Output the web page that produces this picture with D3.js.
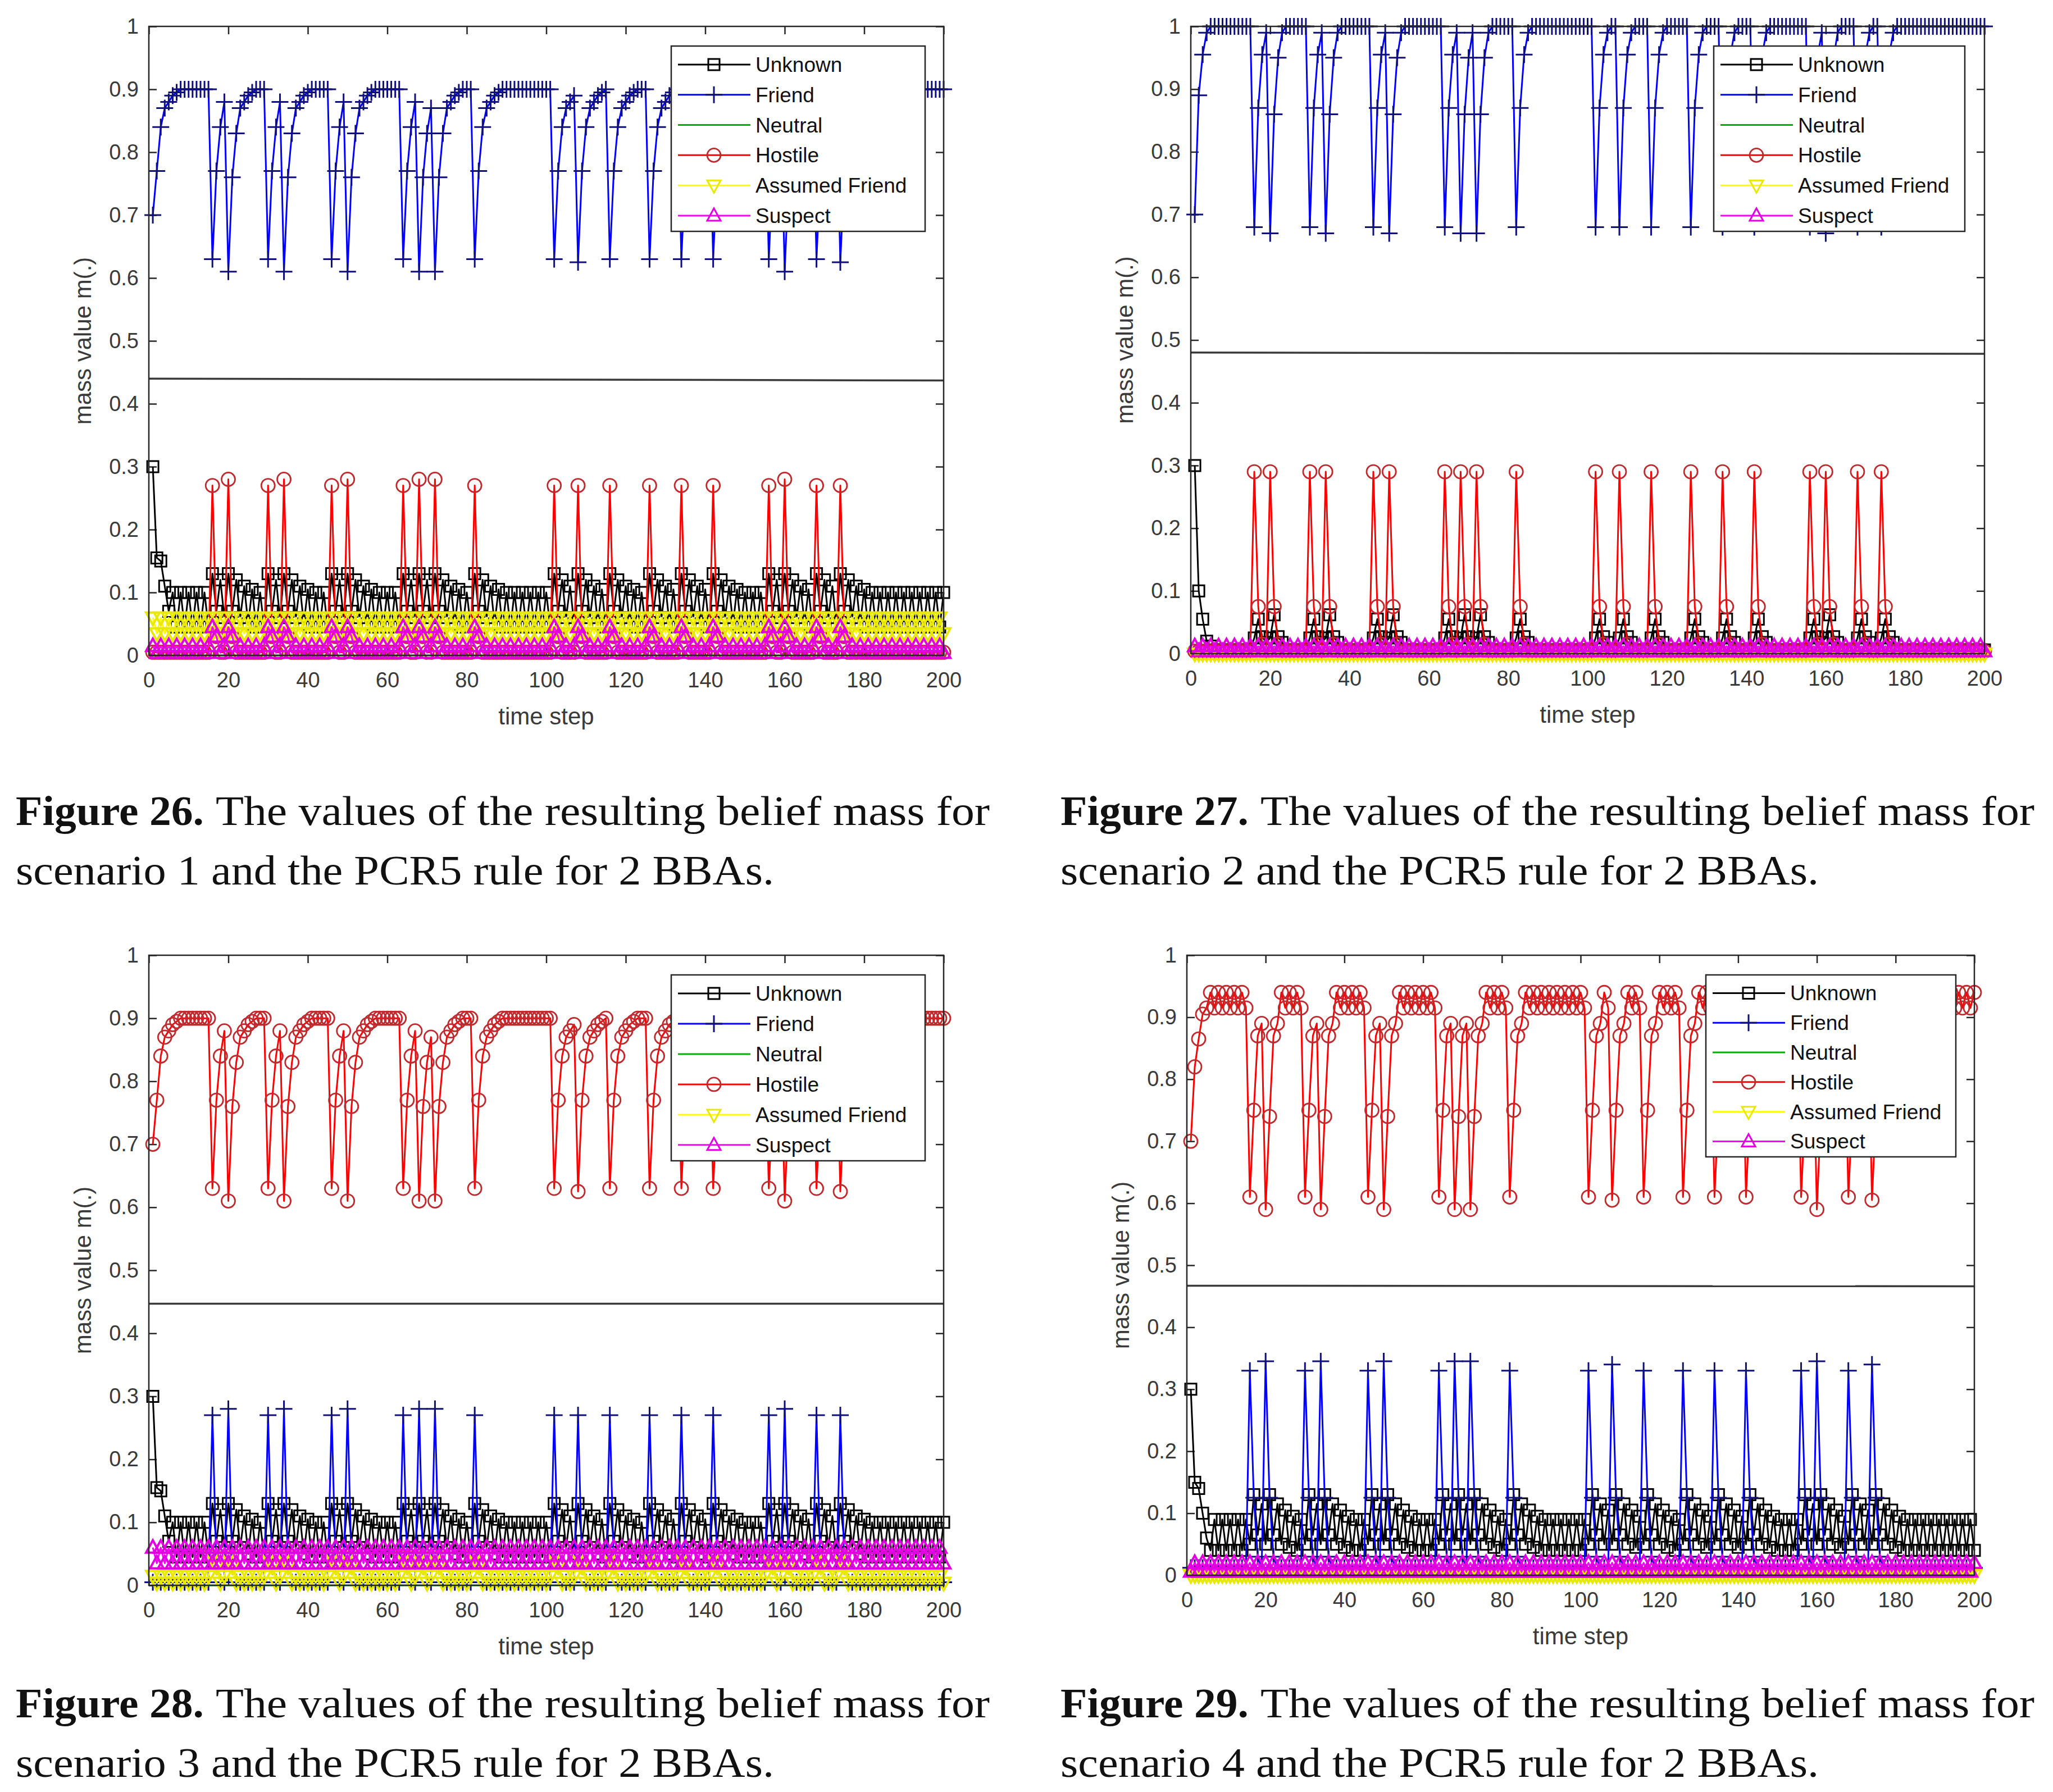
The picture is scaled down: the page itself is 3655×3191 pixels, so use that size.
<!DOCTYPE html>
<html>
<head>
<meta charset="utf-8">
<script src="https://cdn.jsdelivr.net/npm/d3@7"></script>
<style>
body { margin: 0; background: #fff; }
</style>
</head>
<body>
<div id="chart-area"></div>
<script>
const WIDTH = 3655;
const HEIGHT = 3191;

// legend order of the six classes
const SERIES_NAMES = ['Unknown', 'Friend', 'Neutral', 'Hostile', 'Assumed Friend', 'Suspect'];
const X_TICKS = [0, 20, 40, 60, 80, 100, 120, 140, 160, 180, 200];
const Y_TICKS = [0, 0.1, 0.2, 0.3, 0.4, 0.5, 0.6, 0.7, 0.8, 0.9, 1];
const Y_TICK_LABELS = ['0', '0.1', '0.2', '0.3', '0.4', '0.5', '0.6', '0.7', '0.8', '0.9', '1'];

// one value per time step 1..200 (20 per row)
const UNKNOWN_1 = [
0.3,0.155,0.15,0.11,0.07,0.1,0.045,0.1,0.045,0.1,0.045,0.1,0.045,0.1,0.045,0.13,0.07,0.12,0.06,0.13,
0.07,0.12,0.06,0.11,0.05,0.105,0.045,0.1,0.045,0.13,0.07,0.12,0.06,0.13,0.07,0.12,0.06,0.11,0.05,0.105,
0.045,0.1,0.045,0.1,0.045,0.13,0.07,0.12,0.06,0.13,0.07,0.12,0.06,0.11,0.05,0.105,0.045,0.1,0.045,0.1,
0.045,0.1,0.045,0.13,0.07,0.12,0.06,0.13,0.07,0.12,0.06,0.13,0.07,0.12,0.06,0.11,0.05,0.105,0.045,0.1,
0.045,0.13,0.07,0.12,0.06,0.11,0.05,0.105,0.045,0.1,0.045,0.1,0.045,0.1,0.045,0.1,0.045,0.1,0.045,0.1,
0.045,0.13,0.07,0.12,0.06,0.11,0.05,0.13,0.07,0.12,0.06,0.11,0.05,0.105,0.045,0.13,0.07,0.12,0.06,0.11,
0.05,0.105,0.045,0.1,0.045,0.13,0.07,0.12,0.06,0.11,0.05,0.105,0.045,0.13,0.07,0.12,0.06,0.11,0.05,0.105,
0.045,0.13,0.07,0.12,0.06,0.11,0.05,0.105,0.045,0.1,0.045,0.1,0.045,0.1,0.045,0.13,0.07,0.12,0.06,0.13,
0.07,0.12,0.06,0.11,0.05,0.105,0.045,0.13,0.07,0.12,0.06,0.11,0.05,0.13,0.07,0.12,0.06,0.11,0.05,0.105,
0.045,0.1,0.045,0.1,0.045,0.1,0.045,0.1,0.045,0.1,0.045,0.1,0.045,0.1,0.045,0.1,0.045,0.1,0.045,0.1
];
const FRIEND_1 = [
0.7,0.77,0.84,0.87,0.88,0.89,0.895,0.9,0.9,0.9,0.9,0.9,0.9,0.9,0.9,0.63,0.77,0.84,0.88,0.61,
0.76,0.83,0.87,0.88,0.89,0.895,0.9,0.9,0.9,0.63,0.77,0.84,0.88,0.61,0.76,0.83,0.87,0.88,0.89,0.895,
0.9,0.9,0.9,0.9,0.9,0.63,0.77,0.84,0.88,0.61,0.76,0.83,0.87,0.88,0.89,0.895,0.9,0.9,0.9,0.9,
0.9,0.9,0.9,0.63,0.77,0.84,0.88,0.61,0.76,0.83,0.87,0.61,0.76,0.83,0.87,0.88,0.89,0.895,0.9,0.9,
0.9,0.63,0.77,0.84,0.87,0.88,0.89,0.895,0.9,0.9,0.9,0.9,0.9,0.9,0.9,0.9,0.9,0.9,0.9,0.9,
0.9,0.63,0.77,0.84,0.87,0.88,0.89,0.625,0.77,0.84,0.87,0.88,0.89,0.895,0.9,0.63,0.77,0.84,0.87,0.88,
0.89,0.895,0.9,0.9,0.9,0.63,0.77,0.84,0.87,0.88,0.89,0.895,0.9,0.63,0.77,0.84,0.87,0.88,0.89,0.895,
0.9,0.63,0.77,0.84,0.87,0.88,0.89,0.895,0.9,0.9,0.9,0.9,0.9,0.9,0.9,0.63,0.77,0.84,0.88,0.61,
0.76,0.83,0.87,0.88,0.89,0.895,0.9,0.63,0.77,0.84,0.87,0.88,0.89,0.625,0.77,0.84,0.87,0.88,0.89,0.895,
0.9,0.9,0.9,0.9,0.9,0.9,0.9,0.9,0.9,0.9,0.9,0.9,0.9,0.9,0.9,0.9,0.9,0.9,0.9,0.9
];
const HOSTILE_1 = [
0.005,0.005,0.005,0.005,0.005,0.005,0.005,0.005,0.005,0.005,0.005,0.005,0.005,0.005,0.005,0.27,0.03,0.005,0.005,0.28,
0.03,0.005,0.005,0.005,0.005,0.005,0.005,0.005,0.005,0.27,0.03,0.005,0.005,0.28,0.03,0.005,0.005,0.005,0.005,0.005,
0.005,0.005,0.005,0.005,0.005,0.27,0.03,0.005,0.005,0.28,0.03,0.005,0.005,0.005,0.005,0.005,0.005,0.005,0.005,0.005,
0.005,0.005,0.005,0.27,0.03,0.005,0.005,0.28,0.03,0.005,0.005,0.28,0.03,0.005,0.005,0.005,0.005,0.005,0.005,0.005,
0.005,0.27,0.03,0.005,0.005,0.005,0.005,0.005,0.005,0.005,0.005,0.005,0.005,0.005,0.005,0.005,0.005,0.005,0.005,0.005,
0.005,0.27,0.03,0.005,0.005,0.005,0.005,0.27,0.03,0.005,0.005,0.005,0.005,0.005,0.005,0.27,0.03,0.005,0.005,0.005,
0.005,0.005,0.005,0.005,0.005,0.27,0.03,0.005,0.005,0.005,0.005,0.005,0.005,0.27,0.03,0.005,0.005,0.005,0.005,0.005,
0.005,0.27,0.03,0.005,0.005,0.005,0.005,0.005,0.005,0.005,0.005,0.005,0.005,0.005,0.005,0.27,0.03,0.005,0.005,0.28,
0.03,0.005,0.005,0.005,0.005,0.005,0.005,0.27,0.03,0.005,0.005,0.005,0.005,0.27,0.03,0.005,0.005,0.005,0.005,0.005,
0.005,0.005,0.005,0.005,0.005,0.005,0.005,0.005,0.005,0.005,0.005,0.005,0.005,0.005,0.005,0.005,0.005,0.005,0.005,0.005
];
const AFRIEND_1 = [
0.06,0.035,0.06,0.035,0.06,0.035,0.06,0.035,0.06,0.035,0.06,0.035,0.06,0.035,0.06,0.035,0.06,0.035,0.06,0.035,
0.06,0.035,0.06,0.035,0.06,0.035,0.06,0.035,0.06,0.035,0.06,0.035,0.06,0.035,0.06,0.035,0.06,0.035,0.06,0.035,
0.06,0.035,0.06,0.035,0.06,0.035,0.06,0.035,0.06,0.035,0.06,0.035,0.06,0.035,0.06,0.035,0.06,0.035,0.06,0.035,
0.06,0.035,0.06,0.035,0.06,0.035,0.06,0.035,0.06,0.035,0.06,0.035,0.06,0.035,0.06,0.035,0.06,0.035,0.06,0.035,
0.06,0.035,0.06,0.035,0.06,0.035,0.06,0.035,0.06,0.035,0.06,0.035,0.06,0.035,0.06,0.035,0.06,0.035,0.06,0.035,
0.06,0.035,0.06,0.035,0.06,0.035,0.06,0.035,0.06,0.035,0.06,0.035,0.06,0.035,0.06,0.035,0.06,0.035,0.06,0.035,
0.06,0.035,0.06,0.035,0.06,0.035,0.06,0.035,0.06,0.035,0.06,0.035,0.06,0.035,0.06,0.035,0.06,0.035,0.06,0.035,
0.06,0.035,0.06,0.035,0.06,0.035,0.06,0.035,0.06,0.035,0.06,0.035,0.06,0.035,0.06,0.035,0.06,0.035,0.06,0.035,
0.06,0.035,0.06,0.035,0.06,0.035,0.06,0.035,0.06,0.035,0.06,0.035,0.06,0.035,0.06,0.035,0.06,0.035,0.06,0.035,
0.06,0.035,0.06,0.035,0.06,0.035,0.06,0.035,0.06,0.035,0.06,0.035,0.06,0.035,0.06,0.035,0.06,0.035,0.06,0.035
];
const SUSPECT_1 = [
0.015,0.004,0.015,0.004,0.015,0.004,0.015,0.004,0.015,0.004,0.015,0.004,0.015,0.004,0.015,0.045,0.03,0.004,0.015,0.045,
0.03,0.004,0.015,0.004,0.015,0.004,0.015,0.004,0.015,0.045,0.03,0.004,0.015,0.045,0.03,0.004,0.015,0.004,0.015,0.004,
0.015,0.004,0.015,0.004,0.015,0.045,0.03,0.004,0.015,0.045,0.03,0.004,0.015,0.004,0.015,0.004,0.015,0.004,0.015,0.004,
0.015,0.004,0.015,0.045,0.03,0.004,0.015,0.045,0.03,0.004,0.015,0.045,0.03,0.004,0.015,0.004,0.015,0.004,0.015,0.004,
0.015,0.045,0.03,0.004,0.015,0.004,0.015,0.004,0.015,0.004,0.015,0.004,0.015,0.004,0.015,0.004,0.015,0.004,0.015,0.004,
0.015,0.045,0.03,0.004,0.015,0.004,0.015,0.045,0.03,0.004,0.015,0.004,0.015,0.004,0.015,0.045,0.03,0.004,0.015,0.004,
0.015,0.004,0.015,0.004,0.015,0.045,0.03,0.004,0.015,0.004,0.015,0.004,0.015,0.045,0.03,0.004,0.015,0.004,0.015,0.004,
0.015,0.045,0.03,0.004,0.015,0.004,0.015,0.004,0.015,0.004,0.015,0.004,0.015,0.004,0.015,0.045,0.03,0.004,0.015,0.045,
0.03,0.004,0.015,0.004,0.015,0.004,0.015,0.045,0.03,0.004,0.015,0.004,0.015,0.045,0.03,0.004,0.015,0.004,0.015,0.004,
0.015,0.004,0.015,0.004,0.015,0.004,0.015,0.004,0.015,0.004,0.015,0.004,0.015,0.004,0.015,0.004,0.015,0.004,0.015,0.004
];

const UNKNOWN_2 = [
0.3,0.1,0.055,0.02,0.012,0.006,0.006,0.006,0.006,0.006,0.006,0.006,0.006,0.006,0.006,0.025,0.055,0.027,0.018,0.025,
0.062,0.027,0.018,0.006,0.006,0.006,0.006,0.006,0.006,0.025,0.055,0.027,0.018,0.025,0.062,0.027,0.018,0.006,0.006,0.006,
0.006,0.006,0.006,0.006,0.006,0.025,0.055,0.027,0.018,0.025,0.062,0.027,0.018,0.006,0.006,0.006,0.006,0.006,0.006,0.006,
0.006,0.006,0.006,0.025,0.055,0.027,0.018,0.025,0.062,0.027,0.018,0.025,0.062,0.027,0.018,0.006,0.006,0.006,0.006,0.006,
0.006,0.025,0.055,0.027,0.018,0.006,0.006,0.006,0.006,0.006,0.006,0.006,0.006,0.006,0.006,0.006,0.006,0.006,0.006,0.006,
0.006,0.025,0.055,0.027,0.018,0.006,0.006,0.025,0.055,0.027,0.018,0.006,0.006,0.006,0.006,0.025,0.055,0.027,0.018,0.006,
0.006,0.006,0.006,0.006,0.006,0.025,0.055,0.027,0.018,0.006,0.006,0.006,0.006,0.025,0.055,0.027,0.018,0.006,0.006,0.006,
0.006,0.025,0.055,0.027,0.018,0.006,0.006,0.006,0.006,0.006,0.006,0.006,0.006,0.006,0.006,0.025,0.055,0.027,0.018,0.025,
0.062,0.027,0.018,0.006,0.006,0.006,0.006,0.025,0.055,0.027,0.018,0.006,0.006,0.025,0.055,0.027,0.018,0.006,0.006,0.006,
0.006,0.006,0.006,0.006,0.006,0.006,0.006,0.006,0.006,0.006,0.006,0.006,0.006,0.006,0.006,0.006,0.006,0.006,0.006,0.006
];
const FRIEND_2 = [
0.7,0.89,0.955,0.99,1,1,1,1,1,1,1,1,1,1,1,0.68,0.87,0.955,0.99,0.67,
0.86,0.95,0.99,1,1,1,1,1,1,0.68,0.87,0.955,0.99,0.67,0.86,0.95,0.99,1,1,1,
1,1,1,1,1,0.68,0.87,0.955,0.99,0.67,0.86,0.95,0.99,1,1,1,1,1,1,1,
1,1,1,0.68,0.87,0.955,0.99,0.67,0.86,0.95,0.99,0.67,0.86,0.95,0.99,1,1,1,1,1,
1,0.68,0.87,0.955,0.99,1,1,1,1,1,1,1,1,1,1,1,1,1,1,1,
1,0.68,0.87,0.955,0.99,1,1,0.68,0.87,0.955,0.99,1,1,1,1,0.68,0.87,0.955,0.99,1,
1,1,1,1,1,0.68,0.87,0.955,0.99,1,1,1,1,0.68,0.87,0.955,0.99,1,1,1,
1,0.68,0.87,0.955,0.99,1,1,1,1,1,1,1,1,1,1,0.68,0.87,0.955,0.99,0.67,
0.86,0.95,0.99,1,1,1,1,0.68,0.87,0.955,0.99,1,1,0.68,0.87,0.955,0.99,1,1,1,
1,1,1,1,1,1,1,1,1,1,1,1,1,1,1,1,1,1,1,1
];
const HOSTILE_2 = [
0.004,0.004,0.004,0.004,0.004,0.004,0.004,0.004,0.004,0.004,0.004,0.004,0.004,0.004,0.004,0.29,0.075,0.015,0.004,0.29,
0.075,0.015,0.004,0.004,0.004,0.004,0.004,0.004,0.004,0.29,0.075,0.015,0.004,0.29,0.075,0.015,0.004,0.004,0.004,0.004,
0.004,0.004,0.004,0.004,0.004,0.29,0.075,0.015,0.004,0.29,0.075,0.015,0.004,0.004,0.004,0.004,0.004,0.004,0.004,0.004,
0.004,0.004,0.004,0.29,0.075,0.015,0.004,0.29,0.075,0.015,0.004,0.29,0.075,0.015,0.004,0.004,0.004,0.004,0.004,0.004,
0.004,0.29,0.075,0.015,0.004,0.004,0.004,0.004,0.004,0.004,0.004,0.004,0.004,0.004,0.004,0.004,0.004,0.004,0.004,0.004,
0.004,0.29,0.075,0.015,0.004,0.004,0.004,0.29,0.075,0.015,0.004,0.004,0.004,0.004,0.004,0.29,0.075,0.015,0.004,0.004,
0.004,0.004,0.004,0.004,0.004,0.29,0.075,0.015,0.004,0.004,0.004,0.004,0.004,0.29,0.075,0.015,0.004,0.004,0.004,0.004,
0.004,0.29,0.075,0.015,0.004,0.004,0.004,0.004,0.004,0.004,0.004,0.004,0.004,0.004,0.004,0.29,0.075,0.015,0.004,0.29,
0.075,0.015,0.004,0.004,0.004,0.004,0.004,0.29,0.075,0.015,0.004,0.004,0.004,0.29,0.075,0.015,0.004,0.004,0.004,0.004,
0.004,0.004,0.004,0.004,0.004,0.004,0.004,0.004,0.004,0.004,0.004,0.004,0.004,0.004,0.004,0.004,0.004,0.004,0.004,0.004
];
const SUSPECT_2 = [
0.012,0.004,0.012,0.004,0.012,0.004,0.012,0.004,0.012,0.004,0.012,0.004,0.012,0.004,0.012,0.004,0.012,0.004,0.012,0.004,
0.012,0.004,0.012,0.004,0.012,0.004,0.012,0.004,0.012,0.004,0.012,0.004,0.012,0.004,0.012,0.004,0.012,0.004,0.012,0.004,
0.012,0.004,0.012,0.004,0.012,0.004,0.012,0.004,0.012,0.004,0.012,0.004,0.012,0.004,0.012,0.004,0.012,0.004,0.012,0.004,
0.012,0.004,0.012,0.004,0.012,0.004,0.012,0.004,0.012,0.004,0.012,0.004,0.012,0.004,0.012,0.004,0.012,0.004,0.012,0.004,
0.012,0.004,0.012,0.004,0.012,0.004,0.012,0.004,0.012,0.004,0.012,0.004,0.012,0.004,0.012,0.004,0.012,0.004,0.012,0.004,
0.012,0.004,0.012,0.004,0.012,0.004,0.012,0.004,0.012,0.004,0.012,0.004,0.012,0.004,0.012,0.004,0.012,0.004,0.012,0.004,
0.012,0.004,0.012,0.004,0.012,0.004,0.012,0.004,0.012,0.004,0.012,0.004,0.012,0.004,0.012,0.004,0.012,0.004,0.012,0.004,
0.012,0.004,0.012,0.004,0.012,0.004,0.012,0.004,0.012,0.004,0.012,0.004,0.012,0.004,0.012,0.004,0.012,0.004,0.012,0.004,
0.012,0.004,0.012,0.004,0.012,0.004,0.012,0.004,0.012,0.004,0.012,0.004,0.012,0.004,0.012,0.004,0.012,0.004,0.012,0.004,
0.012,0.004,0.012,0.004,0.012,0.004,0.012,0.004,0.012,0.004,0.012,0.004,0.012,0.004,0.012,0.004,0.012,0.004,0.012,0.004
];

const UNKNOWN_4 = [
0.3,0.15,0.14,0.1,0.06,0.04,0.09,0.04,0.09,0.04,0.09,0.04,0.09,0.04,0.09,0.05,0.13,0.065,0.115,0.05,
0.13,0.065,0.115,0.05,0.105,0.045,0.095,0.04,0.09,0.05,0.13,0.065,0.115,0.05,0.13,0.065,0.115,0.05,0.105,0.045,
0.095,0.04,0.09,0.04,0.09,0.05,0.13,0.065,0.115,0.05,0.13,0.065,0.115,0.05,0.105,0.045,0.095,0.04,0.09,0.04,
0.09,0.04,0.09,0.05,0.13,0.065,0.115,0.05,0.13,0.065,0.115,0.05,0.13,0.065,0.115,0.05,0.105,0.045,0.095,0.04,
0.09,0.05,0.13,0.065,0.115,0.05,0.105,0.045,0.095,0.04,0.09,0.04,0.09,0.04,0.09,0.04,0.09,0.04,0.09,0.04,
0.09,0.05,0.13,0.065,0.115,0.05,0.105,0.05,0.13,0.065,0.115,0.05,0.105,0.045,0.095,0.05,0.13,0.065,0.115,0.05,
0.105,0.045,0.095,0.04,0.09,0.05,0.13,0.065,0.115,0.05,0.105,0.045,0.095,0.05,0.13,0.065,0.115,0.05,0.105,0.045,
0.095,0.05,0.13,0.065,0.115,0.05,0.105,0.045,0.095,0.04,0.09,0.04,0.09,0.04,0.09,0.05,0.13,0.065,0.115,0.05,
0.13,0.065,0.115,0.05,0.105,0.045,0.095,0.05,0.13,0.065,0.115,0.05,0.105,0.05,0.13,0.065,0.115,0.05,0.105,0.045,
0.095,0.04,0.09,0.04,0.09,0.04,0.09,0.04,0.09,0.04,0.09,0.04,0.09,0.04,0.09,0.04,0.09,0.04,0.09,0.04
];
const FRIEND_4 = [
0.012,0.012,0.012,0.012,0.012,0.012,0.012,0.012,0.012,0.012,0.012,0.012,0.012,0.012,0.012,0.33,0.125,0.03,0.012,0.345,
0.125,0.03,0.012,0.012,0.012,0.012,0.012,0.012,0.012,0.33,0.125,0.03,0.012,0.345,0.125,0.03,0.012,0.012,0.012,0.012,
0.012,0.012,0.012,0.012,0.012,0.33,0.125,0.03,0.012,0.345,0.125,0.03,0.012,0.012,0.012,0.012,0.012,0.012,0.012,0.012,
0.012,0.012,0.012,0.33,0.125,0.03,0.012,0.345,0.125,0.03,0.012,0.345,0.125,0.03,0.012,0.012,0.012,0.012,0.012,0.012,
0.012,0.33,0.125,0.03,0.012,0.012,0.012,0.012,0.012,0.012,0.012,0.012,0.012,0.012,0.012,0.012,0.012,0.012,0.012,0.012,
0.012,0.33,0.125,0.03,0.012,0.012,0.012,0.34,0.125,0.03,0.012,0.012,0.012,0.012,0.012,0.33,0.125,0.03,0.012,0.012,
0.012,0.012,0.012,0.012,0.012,0.33,0.125,0.03,0.012,0.012,0.012,0.012,0.012,0.33,0.125,0.03,0.012,0.012,0.012,0.012,
0.012,0.33,0.125,0.03,0.012,0.012,0.012,0.012,0.012,0.012,0.012,0.012,0.012,0.012,0.012,0.33,0.125,0.03,0.012,0.345,
0.125,0.03,0.012,0.012,0.012,0.012,0.012,0.33,0.125,0.03,0.012,0.012,0.012,0.34,0.125,0.03,0.012,0.012,0.012,0.012,
0.012,0.012,0.012,0.012,0.012,0.012,0.012,0.012,0.012,0.012,0.012,0.012,0.012,0.012,0.012,0.012,0.012,0.012,0.012,0.012
];
const HOSTILE_4 = [
0.7,0.82,0.865,0.905,0.915,0.94,0.915,0.94,0.915,0.94,0.915,0.94,0.915,0.94,0.915,0.61,0.75,0.87,0.89,0.59,
0.74,0.87,0.89,0.94,0.915,0.94,0.915,0.94,0.915,0.61,0.75,0.87,0.89,0.59,0.74,0.87,0.89,0.94,0.915,0.94,
0.915,0.94,0.915,0.94,0.915,0.61,0.75,0.87,0.89,0.59,0.74,0.87,0.89,0.94,0.915,0.94,0.915,0.94,0.915,0.94,
0.915,0.94,0.915,0.61,0.75,0.87,0.89,0.59,0.74,0.87,0.89,0.59,0.74,0.87,0.89,0.94,0.915,0.94,0.915,0.94,
0.915,0.61,0.75,0.87,0.89,0.94,0.915,0.94,0.915,0.94,0.915,0.94,0.915,0.94,0.915,0.94,0.915,0.94,0.915,0.94,
0.915,0.61,0.75,0.87,0.89,0.94,0.915,0.605,0.75,0.87,0.89,0.94,0.915,0.94,0.915,0.61,0.75,0.87,0.89,0.94,
0.915,0.94,0.915,0.94,0.915,0.61,0.75,0.87,0.89,0.94,0.915,0.94,0.915,0.61,0.75,0.87,0.89,0.94,0.915,0.94,
0.915,0.61,0.75,0.87,0.89,0.94,0.915,0.94,0.915,0.94,0.915,0.94,0.915,0.94,0.915,0.61,0.75,0.87,0.89,0.59,
0.74,0.87,0.89,0.94,0.915,0.94,0.915,0.61,0.75,0.87,0.89,0.94,0.915,0.605,0.75,0.87,0.89,0.94,0.915,0.94,
0.915,0.94,0.915,0.94,0.915,0.94,0.915,0.94,0.915,0.94,0.915,0.94,0.915,0.94,0.915,0.94,0.915,0.94,0.915,0.94
];
const SUSPECT_4 = [
0.006,0.02,0.006,0.02,0.006,0.02,0.006,0.02,0.006,0.02,0.006,0.02,0.006,0.02,0.006,0.02,0.006,0.02,0.006,0.02,
0.006,0.02,0.006,0.02,0.006,0.02,0.006,0.02,0.006,0.02,0.006,0.02,0.006,0.02,0.006,0.02,0.006,0.02,0.006,0.02,
0.006,0.02,0.006,0.02,0.006,0.02,0.006,0.02,0.006,0.02,0.006,0.02,0.006,0.02,0.006,0.02,0.006,0.02,0.006,0.02,
0.006,0.02,0.006,0.02,0.006,0.02,0.006,0.02,0.006,0.02,0.006,0.02,0.006,0.02,0.006,0.02,0.006,0.02,0.006,0.02,
0.006,0.02,0.006,0.02,0.006,0.02,0.006,0.02,0.006,0.02,0.006,0.02,0.006,0.02,0.006,0.02,0.006,0.02,0.006,0.02,
0.006,0.02,0.006,0.02,0.006,0.02,0.006,0.02,0.006,0.02,0.006,0.02,0.006,0.02,0.006,0.02,0.006,0.02,0.006,0.02,
0.006,0.02,0.006,0.02,0.006,0.02,0.006,0.02,0.006,0.02,0.006,0.02,0.006,0.02,0.006,0.02,0.006,0.02,0.006,0.02,
0.006,0.02,0.006,0.02,0.006,0.02,0.006,0.02,0.006,0.02,0.006,0.02,0.006,0.02,0.006,0.02,0.006,0.02,0.006,0.02,
0.006,0.02,0.006,0.02,0.006,0.02,0.006,0.02,0.006,0.02,0.006,0.02,0.006,0.02,0.006,0.02,0.006,0.02,0.006,0.02,
0.006,0.02,0.006,0.02,0.006,0.02,0.006,0.02,0.006,0.02,0.006,0.02,0.006,0.02,0.006,0.02,0.006,0.02,0.006,0.02
];

// Neutral stays at zero in every scenario, Assumed Friend at zero in scenarios 2 and 4
const ZERO_SERIES = [
0,0,0,0,0,0,0,0,0,0,0,0,0,0,0,0,0,0,0,0,
0,0,0,0,0,0,0,0,0,0,0,0,0,0,0,0,0,0,0,0,
0,0,0,0,0,0,0,0,0,0,0,0,0,0,0,0,0,0,0,0,
0,0,0,0,0,0,0,0,0,0,0,0,0,0,0,0,0,0,0,0,
0,0,0,0,0,0,0,0,0,0,0,0,0,0,0,0,0,0,0,0,
0,0,0,0,0,0,0,0,0,0,0,0,0,0,0,0,0,0,0,0,
0,0,0,0,0,0,0,0,0,0,0,0,0,0,0,0,0,0,0,0,
0,0,0,0,0,0,0,0,0,0,0,0,0,0,0,0,0,0,0,0,
0,0,0,0,0,0,0,0,0,0,0,0,0,0,0,0,0,0,0,0,
0,0,0,0,0,0,0,0,0,0,0,0,0,0,0,0,0,0,0,0
];

// the thin dark line crossing each plot, value at t=0 and t=200
const REF_LINES = [[0.44, 0.437], [0.48, 0.478], [0.447, 0.447], [0.467, 0.466]];

const FIG_NUMBERS = ['26', '27', '28', '29'];
const SCENARIOS = ['1', '2', '3', '4'];

// styling per class
const LINE_COLORS = ['#000000', '#0000ff', '#00b000', '#ff0000', '#ffff00', '#ff00ff'];
const MARK_COLORS = ['#000000', '#10107a', '#00b000', '#c02a2e', '#e8e800', '#e000e0'];
const MARK_TYPES = ['square', 'plus', null, 'circle', 'down', 'up'];
const MARK_WIDTHS = [3, 3, 0, 2.8, 4, 4];

// layout of the four figures (pixels)
const LAYOUT = [
    {box: {l: 265, t: 47, r: 1680, b: 1167}, leg: {x: 1195, y: 82, w: 452, h: 330}, cap: {x: 28, y: 1469}},
    {box: {l: 2120, t: 47, r: 3533, b: 1164}, leg: {x: 3051, y: 82, w: 447, h: 330}, cap: {x: 1888, y: 1469}},
    {box: {l: 265, t: 1701, r: 1680, b: 2823}, leg: {x: 1195, y: 1736, w: 452, h: 331}, cap: {x: 28, y: 3058}},
    {box: {l: 2113, t: 1701, r: 3515, b: 2805}, leg: {x: 3037, y: 1736, w: 445, h: 324}, cap: {x: 1888, y: 3058}}
];

const PANEL_SERIES = [
    [UNKNOWN_1, FRIEND_1, ZERO_SERIES, HOSTILE_1, AFRIEND_1, SUSPECT_1],
    [UNKNOWN_2, FRIEND_2, ZERO_SERIES, HOSTILE_2, ZERO_SERIES, SUSPECT_2],
    // scenario 3 mirrors scenario 1 with the friendly / hostile roles swapped
    [UNKNOWN_1, HOSTILE_1, ZERO_SERIES, FRIEND_1, SUSPECT_1, AFRIEND_1],
    [UNKNOWN_4, FRIEND_4, ZERO_SERIES, HOSTILE_4, ZERO_SERIES, SUSPECT_4]
];

const AXIS_FONT = "'Liberation Sans', Arial, sans-serif";
const CAPTION_FONT = "'Liberation Serif', 'DejaVu Serif', serif";

function markerPath(type) {
    switch (type) {
        case 'square': return 'M-10,-10H10V10H-10Z';
        case 'plus': return 'M-15,0H15M0,-15V15';
        case 'circle': return 'M12,0A12,12 0 1,1 -12,0A12,12 0 1,1 12,0Z';
        case 'up': return 'M0,-13L12,9H-12Z';
        case 'down': return 'M0,13L12,-9H-12Z';
    }
    return null;
}

const svg = d3.select('#chart-area')
    .append('svg')
    .attr('width', WIDTH)
    .attr('height', HEIGHT)
    .style('background', '#fff');

LAYOUT.forEach((lay, p) => {
    const box = lay.box;
    const g = svg.append('g');

    const xScale = d3.scaleLinear().domain([0, 200]).range([box.l, box.r]);
    const yScale = d3.scaleLinear().domain([0, 1]).range([box.b, box.t]);

    // axes with inward ticks, mirrored on top and right
    const leftAxis = g.append('g')
        .attr('transform', `translate(${box.l},0)`)
        .call(d3.axisLeft(yScale).tickValues(Y_TICKS)
            .tickFormat((d, i) => Y_TICK_LABELS[i])
            .tickSizeInner(-14).tickSizeOuter(0).tickPadding(18));
    const bottomAxis = g.append('g')
        .attr('transform', `translate(0,${box.b})`)
        .call(d3.axisBottom(xScale).tickValues(X_TICKS)
            .tickSizeInner(-14).tickSizeOuter(0).tickPadding(30));
    g.append('g')
        .attr('transform', `translate(${box.r},0)`)
        .call(d3.axisRight(yScale).tickValues(Y_TICKS).tickFormat('')
            .tickSizeInner(-14).tickSizeOuter(0));
    g.append('g')
        .attr('transform', `translate(0,${box.t})`)
        .call(d3.axisTop(xScale).tickValues(X_TICKS).tickFormat('')
            .tickSizeInner(-14).tickSizeOuter(0));

    g.selectAll('.domain').remove();
    g.selectAll('.tick line').attr('stroke', '#262626').attr('stroke-width', 2.5);
    [leftAxis, bottomAxis].forEach(a => a.selectAll('text')
        .attr('font-family', AXIS_FONT)
        .attr('font-size', 38)
        .attr('fill', '#3a3a3a'));

    // the thin horizontal line
    g.append('path')
        .datum(REF_LINES[p])
        .attr('fill', 'none')
        .attr('stroke', '#3a3a3a')
        .attr('stroke-width', 3.5)
        .attr('d', d3.line().x((d, i) => xScale(i * 200)).y(d => yScale(d)));

    // series, in legend order
    PANEL_SERIES[p].forEach((values, s) => {
        const sg = g.append('g');
        sg.append('path')
            .datum(values)
            .attr('fill', 'none')
            .attr('stroke', LINE_COLORS[s])
            .attr('stroke-width', 3)
            .attr('stroke-linejoin', 'round')
            .attr('d', d3.line().x((d, i) => xScale(i + 1)).y(d => yScale(d)));
        if (MARK_TYPES[s]) {
            sg.selectAll('path.mk')
                .data(values)
                .join('path')
                .attr('class', 'mk')
                .attr('transform', (d, i) => `translate(${xScale(i + 1)},${yScale(d)})`)
                .attr('d', markerPath(MARK_TYPES[s]))
                .attr('fill', 'none')
                .attr('stroke', MARK_COLORS[s])
                .attr('stroke-width', MARK_WIDTHS[s]);
        }
    });

    // box
    g.append('rect')
        .attr('x', box.l).attr('y', box.t)
        .attr('width', box.r - box.l).attr('height', box.b - box.t)
        .attr('fill', 'none')
        .attr('stroke', '#262626')
        .attr('stroke-width', 2.5);

    // axis labels
    g.append('text')
        .attr('x', (box.l + box.r) / 2)
        .attr('y', box.b + 123)
        .attr('text-anchor', 'middle')
        .attr('font-family', AXIS_FONT)
        .attr('font-size', 42)
        .attr('fill', '#3a3a3a')
        .text('time step');
    g.append('text')
        .attr('transform', `translate(${box.l - 103},${(box.t + box.b) / 2}) rotate(-90)`)
        .attr('text-anchor', 'middle')
        .attr('font-family', AXIS_FONT)
        .attr('font-size', 42)
        .attr('fill', '#3a3a3a')
        .text('mass value m(.)');

    // legend
    const leg = lay.leg;
    const lg = g.append('g');
    lg.append('rect')
        .attr('x', leg.x).attr('y', leg.y)
        .attr('width', leg.w).attr('height', leg.h)
        .attr('fill', '#fff')
        .attr('stroke', '#262626')
        .attr('stroke-width', 2.5);
    SERIES_NAMES.forEach((name, s) => {
        const ry = leg.y + leg.h * 0.1 + s * leg.h * 0.163;
        lg.append('line')
            .attr('x1', leg.x + 12).attr('x2', leg.x + 141)
            .attr('y1', ry).attr('y2', ry)
            .attr('stroke', LINE_COLORS[s])
            .attr('stroke-width', 3);
        if (MARK_TYPES[s]) {
            lg.append('path')
                .attr('transform', `translate(${leg.x + 76},${ry})`)
                .attr('d', markerPath(MARK_TYPES[s]))
                .attr('fill', 'none')
                .attr('stroke', MARK_COLORS[s])
                .attr('stroke-width', Math.min(MARK_WIDTHS[s], 3));
        }
        lg.append('text')
            .attr('x', leg.x + 150)
            .attr('y', ry + 13)
            .attr('font-family', AXIS_FONT)
            .attr('font-size', 37)
            .attr('fill', '#111')
            .text(name);
    });

    // caption, stretched to the width of the original serif face
    const cap = svg.append('g')
        .attr('font-family', CAPTION_FONT)
        .attr('font-size', 73)
        .attr('fill', '#111');
    cap.append('text')
        .attr('x', lay.cap.x)
        .attr('y', lay.cap.y)
        .attr('font-weight', 'bold')
        .attr('textLength', 335)
        .attr('lengthAdjust', 'spacingAndGlyphs')
        .text(`Figure ${FIG_NUMBERS[p]}.`);
    cap.append('text')
        .attr('x', lay.cap.x + 356)
        .attr('y', lay.cap.y)
        .attr('textLength', 1378)
        .attr('lengthAdjust', 'spacingAndGlyphs')
        .text('The values of the resulting belief mass for');
    cap.append('text')
        .attr('x', lay.cap.x)
        .attr('y', lay.cap.y + 106)
        .attr('textLength', 1350)
        .attr('lengthAdjust', 'spacingAndGlyphs')
        .text(`scenario ${SCENARIOS[p]} and the PCR5 rule for 2 BBAs.`);
});
</script>
</body>
</html>
